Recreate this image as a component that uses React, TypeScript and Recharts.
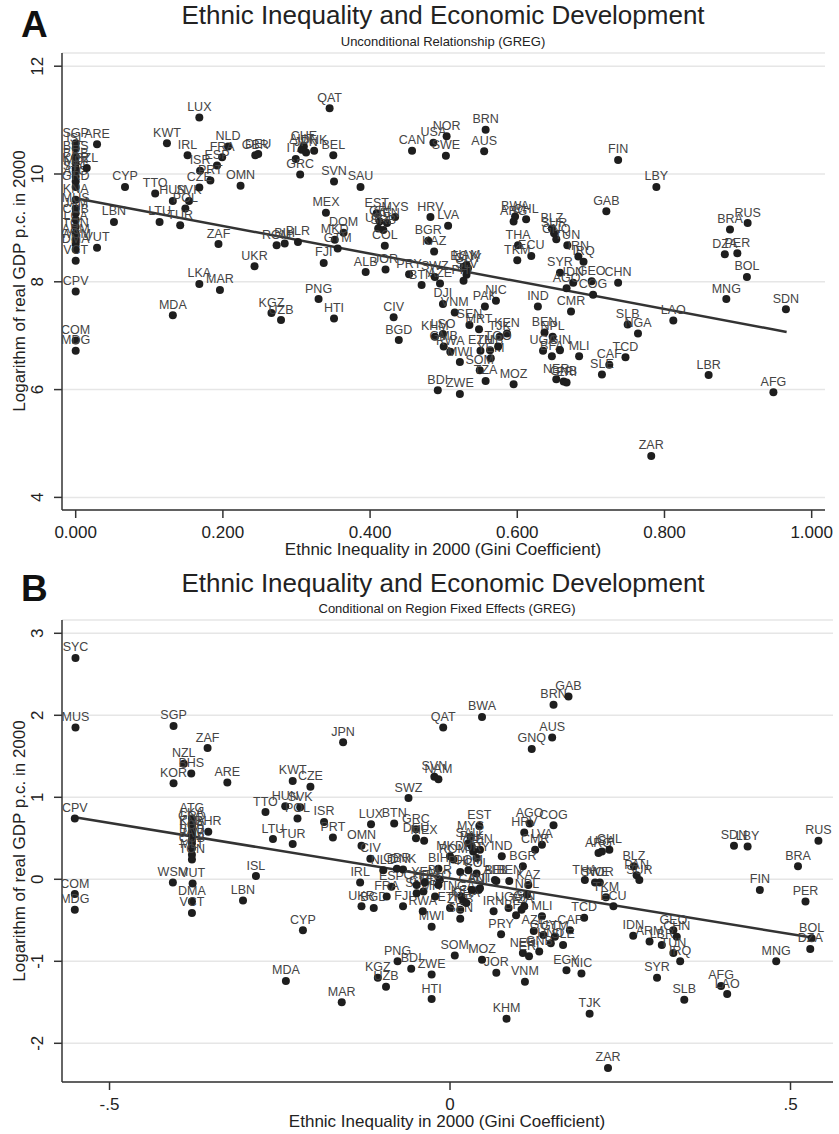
import React from "react";
import {
  ScatterChart,
  Scatter,
  XAxis,
  YAxis,
  CartesianGrid,
  ReferenceLine,
} from "recharts";

// Panel A: unconditional relationship
const A_CODES = [
  "SGP", "ISL", "BHS", "BRB", "KOR", "MLT", "SYC", "ATG", "GRD", "KNA", "MUS", "JAM", "CUB", "LCA", "TON",
  "ARM", "WSM", "DMA", "VCT", "CPV", "COM", "MDG", "SZL", "ARE", "VUT", "CYP", "LBN", "TTO", "HUN", "SVK",
  "POL", "LTU", "TUR", "KWT", "IRL", "LUX", "NLD", "FRA", "ESP", "ISR", "PRT", "CZE", "OMN", "GBR", "DEU",
  "ITA", "CHE", "AUT", "DNK", "JPN", "BEL", "GRC", "SVN", "SAU", "QAT", "CAN", "USA", "NOR", "SWE", "BRN",
  "AUS", "FIN", "LBY", "GAB", "MEX", "EST", "CRI", "MYS", "VEN", "URY", "SRB", "HRV", "LVA", "BGR", "KAZ",
  "DOM", "MKD", "GTM", "FJI", "COL", "ALB", "JOR", "PRY", "BTN", "SWZ", "AZE", "EGY", "NAM", "GUY", "SLV",
  "PHL", "ROM", "BIH", "BLR", "ZAF", "UKR", "LKA", "MAR", "MDA", "KGZ", "UZB", "PNG", "HTI", "CIV", "BGD",
  "DJI", "VNM", "PAK", "NIC", "SEN", "MRT", "KEN", "TJK", "KHM", "LSO", "GMB", "RWA", "MWI", "ETH", "ZMB",
  "YEM", "TGO", "SOM", "TZA", "MOZ", "BDI", "ZWE", "IND", "CMR", "BEN", "NPL", "UGA", "BFA", "GIN", "MLI",
  "NER", "GNB", "ERI", "TCD", "CAF", "SLE", "SLB", "NGA", "LAO", "LBR", "AFG", "ZAR", "MNG", "SDN", "BRA",
  "RUS", "DZA", "PER", "BOL", "ARG", "CHL", "BWA", "BLZ", "SUR", "GNQ", "THA", "ECU", "TKM", "TUN", "IRQ",
  "IRN", "SYR", "IDN", "GEO", "AGO", "COG", "CHN",
];
const A_GINI = [
  0, 0, 0, 0, 0, 0, 0, 0, 0, 0, 0, 0, 0, 0, 0,
  0, 0, 0, 0, 0, 0, 0, 0.015, 0.029, 0.029, 0.067, 0.052, 0.108, 0.132, 0.154,
  0.149, 0.114, 0.142, 0.124, 0.152, 0.168, 0.207, 0.199, 0.192, 0.169, 0.183, 0.168, 0.224, 0.244, 0.248,
  0.299, 0.31, 0.307, 0.324, 0.313, 0.35, 0.305, 0.351, 0.387, 0.345, 0.457, 0.486, 0.504, 0.503, 0.557,
  0.555, 0.737, 0.789, 0.721, 0.34, 0.409, 0.413, 0.434, 0.423, 0.411, 0.418, 0.482, 0.506, 0.479, 0.487,
  0.364, 0.352, 0.356, 0.337, 0.42, 0.394, 0.421, 0.453, 0.47, 0.488, 0.495, 0.527, 0.531, 0.533, 0.531,
  0.527, 0.273, 0.284, 0.302, 0.194, 0.243, 0.168, 0.196, 0.132, 0.266, 0.279, 0.33, 0.351, 0.432, 0.439,
  0.499, 0.515, 0.556, 0.571, 0.535, 0.548, 0.586, 0.576, 0.488, 0.499, 0.5, 0.509, 0.522, 0.55, 0.563,
  0.564, 0.574, 0.549, 0.557, 0.595, 0.492, 0.522, 0.628, 0.673, 0.637, 0.648, 0.635, 0.647, 0.658, 0.684,
  0.653, 0.663, 0.667, 0.747, 0.725, 0.715, 0.75, 0.764, 0.812, 0.86, 0.948, 0.782, 0.884, 0.965, 0.889,
  0.913, 0.882, 0.899, 0.912, 0.595, 0.612, 0.597, 0.647, 0.65, 0.653, 0.601, 0.619, 0.6, 0.668, 0.69,
  0.683, 0.658, 0.676, 0.701, 0.667, 0.703, 0.737,
];
const A_GDP = [
  10.57, 10.48, 10.32, 10.2, 10.1, 10.04, 9.95, 9.86, 9.76, 9.52, 9.36, 9.27, 9.15, 9.02, 8.9,
  8.78, 8.7, 8.6, 8.39, 7.82, 6.91, 6.72, 10.11, 10.55, 8.63, 9.76, 9.11, 9.64, 9.5, 9.5,
  9.36, 9.11, 9.05, 10.57, 10.35, 11.05, 10.51, 10.31, 10.16, 10.06, 9.88, 9.75, 9.78, 10.35, 10.37,
  10.28, 10.51, 10.45, 10.43, 10.4, 10.35, 9.99, 9.86, 9.76, 11.22, 10.43, 10.58, 10.7, 10.34, 10.82,
  10.42, 10.26, 9.76, 9.31, 9.28, 9.27, 9.12, 9.2, 9.09, 8.99, 8.96, 9.2, 9.04, 8.76, 8.56,
  8.91, 8.78, 8.62, 8.35, 8.67, 8.18, 8.23, 8.14, 7.94, 8.09, 7.97, 8.28, 8.31, 8.25, 8.13,
  8.02, 8.68, 8.71, 8.74, 8.7, 8.29, 7.96, 7.85, 7.38, 7.42, 7.29, 7.68, 7.32, 7.34, 6.92,
  7.59, 7.43, 7.54, 7.65, 7.2, 7.12, 7.04, 6.98, 6.98, 7.03, 6.8, 6.7, 6.51, 6.72, 6.73,
  6.58, 6.8, 6.36, 6.16, 6.1, 5.99, 5.92, 7.54, 7.45, 7.06, 6.98, 6.72, 6.62, 6.73, 6.62,
  6.19, 6.15, 6.13, 6.6, 6.46, 6.28, 7.21, 7.04, 7.28, 6.27, 5.95, 4.77, 7.68, 7.49, 8.97,
  9.09, 8.51, 8.53, 8.09, 9.12, 9.16, 9.21, 8.99, 8.9, 8.79, 8.68, 8.48, 8.4, 8.68, 8.37,
  8.47, 8.17, 7.98, 8.01, 7.88, 7.76, 7.98,
];
const A_FIT = [
  { x: 0, y: 9.55 },
  { x: 0.966, y: 7.07 },
];
const A_XTICKS = [0, 0.2, 0.4, 0.6, 0.8, 1];
const A_YTICKS = [4, 6, 8, 10, 12];

// Panel B: conditional on region fixed effects (residuals)
const B_CODES = [
  "SYC", "MUS", "CPV", "COM", "MDG", "SGP", "ZAF", "NZL", "BHS", "KOR", "ARE", "JPN", "KWT", "CZE", "SWZ",
  "HUN", "SVK", "TTO", "POL", "ISR", "PRT", "LTU", "TUR", "LUX", "BTN", "OMN", "CIV", "IRL", "UKR", "BGD",
  "ESP", "FJI", "CYP", "MDA", "MAR", "KGZ", "UZB", "PNG", "BDI", "ISL", "LBN", "ATG", "LKA", "GRD", "KNA",
  "LCA", "BRB", "JAM", "CUB", "MLT", "TON", "VUT", "DMA", "VCT", "WSM", "BHR", "QAT", "BWA", "BRN", "GAB",
  "AUS", "GNQ", "SVN", "NAM", "GRC", "DEU", "MEX", "EST", "MYS", "SAU", "PAK", "CRI", "VEN", "URY", "IND",
  "AGO", "COG", "HRV", "LVA", "CMR", "BGR", "KAZ", "BEL", "BEN", "THA", "SWE", "NOR", "ARG", "USA", "CHL",
  "BLZ", "PAN", "SUR", "TKM", "ECU", "SDN", "LBY", "RUS", "BRA", "FIN", "PER", "BOL", "DZA", "MNG", "GEO",
  "CHN", "IDN", "ARM", "LBR", "TUN", "IRQ", "SYR", "SLB", "AFG", "LAO", "TCD", "CAF", "MLI", "AZE", "GUY",
  "HND", "GTM", "SLE", "NER", "ERI", "GNB", "EGY", "NIC", "VNM", "JOR", "MOZ", "SOM", "PRY", "IRN", "UGA",
  "BFA", "TZA", "NPL", "GIN", "MWI", "RWA", "ZWE", "HTI", "KHM", "TJK", "ZAR", "GMB", "ETH", "ZMB", "KEN",
  "SEN", "MKD", "ROM", "BIH", "BLR", "PHL", "DOM", "COL", "ALB", "SLV", "MRT", "LSO", "DJI", "NGA", "GHA",
  "FRA", "CAN", "AUT", "NLD", "GBR", "DNK", "CHE", "YEM",
];
const B_GINI = [
  -0.55, -0.55, -0.551, -0.551, -0.551, -0.406, -0.356, -0.391, -0.38, -0.406, -0.327, -0.157, -0.231, -0.205, -0.061,
  -0.242, -0.22, -0.271, -0.224, -0.185, -0.172, -0.26, -0.231, -0.116, -0.082, -0.13, -0.117, -0.132, -0.13, -0.112,
  -0.086, -0.069, -0.216, -0.241, -0.159, -0.106, -0.094, -0.077, -0.057, -0.285, -0.304, -0.379, -0.379, -0.379, -0.379,
  -0.379, -0.379, -0.379, -0.379, -0.379, -0.379, -0.378, -0.379, -0.379, -0.407, -0.355, -0.01, 0.047, 0.152, 0.174,
  0.15, 0.12, -0.023, -0.017, -0.05, -0.05, -0.038, 0.043, 0.03, 0.027, 0.032, 0.034, 0.044, 0.039, 0.076,
  0.117, 0.152, 0.109, 0.135, 0.125, 0.107, 0.115, 0.068, 0.087, 0.198, 0.213, 0.22, 0.218, 0.223, 0.234,
  0.27, 0.274, 0.278, 0.229, 0.24, 0.417, 0.437, 0.541, 0.511, 0.455, 0.522, 0.531, 0.529, 0.479, 0.328,
  0.333, 0.269, 0.293, 0.311, 0.328, 0.338, 0.304, 0.344, 0.398, 0.407, 0.197, 0.176, 0.135, 0.123, 0.137,
  0.148, 0.154, 0.166, 0.107, 0.116, 0.131, 0.171, 0.193, 0.11, 0.068, 0.047, 0.007, 0.075, 0.064, 0.086,
  0.097, 0.105, 0.113, 0.109, -0.027, -0.04, -0.027, -0.027, 0.083, 0.205, 0.232, -0.039, 0, 0.015, 0.02,
  0.015, 0, 0.005, -0.017, -0.015, 0.015, 0.027, 0.039, 0.066, -0.049, -0.022, -0.017, 0.042, 0.017, 0.024,
  -0.093, 0.032, 0.044, -0.098, -0.078, -0.069, -0.049, -0.037,
];
const B_GDP = [
  2.7, 1.85, 0.74, -0.18, -0.37, 1.87, 1.6, 1.41, 1.29, 1.17, 1.18, 1.67, 1.2, 1.13, 0.99,
  0.89, 0.88, 0.82, 0.74, 0.7, 0.51, 0.49, 0.43, 0.67, 0.68, 0.41, 0.25, -0.04, -0.33, -0.35,
  -0.09, -0.33, -0.62, -1.24, -1.5, -1.2, -1.31, -1.0, -1.09, 0.04, -0.26, 0.74, 0.68, 0.64, 0.58,
  0.54, 0.48, 0.44, 0.38, 0.3, 0.24, -0.05, -0.27, -0.41, -0.04, 0.58, 1.85, 1.98, 2.13, 2.23,
  1.73, 1.59, 1.25, 1.22, 0.61, 0.5, 0.47, 0.65, 0.52, 0.44, 0.4, 0.34, 0.36, 0.26, 0.28,
  0.68, 0.66, 0.57, 0.42, 0.36, 0.16, -0.07, -0.02, -0.02, -0.01, -0.04, -0.04, 0.32, 0.34, 0.36,
  0.16, 0.05, -0.01, -0.22, -0.33, 0.41, 0.4, 0.47, 0.16, -0.13, -0.27, -0.72, -0.85, -1.0, -0.62,
  -0.7, -0.69, -0.76, -0.8, -0.9, -1.0, -1.2, -1.47, -1.3, -1.4, -0.47, -0.62, -0.45, -0.63, -0.68,
  -0.78, -0.7, -0.8, -0.9, -0.94, -0.88, -1.11, -1.15, -1.25, -1.14, -0.98, -0.93, -0.67, -0.39, -0.35,
  -0.44, -0.37, -0.19, -0.33, -0.58, -0.39, -1.16, -1.46, -1.7, -1.64, -2.3, -0.15, -0.35, -0.37, -0.27,
  -0.48, 0.28, 0.24, 0.13, -0.01, 0.09, 0.11, 0.07, -0.01, -0.17, -0.21, -0.07, -0.13, -0.21, -0.29,
  -0.21, -0.13, -0.11, 0.11, 0.13, 0.12, -0.07, -0.04,
];
const B_FIT = [
  { x: -0.551, y: 0.756 },
  { x: 0.536, y: -0.717 },
];
const B_XTICKS = [-0.5, 0, 0.5];
const B_XLABELS = ["-.5", "0", ".5"];
const B_YTICKS = [-2, -1, 0, 1, 2, 3];

const FONT = "'Liberation Sans', Arial, Helvetica, sans-serif";
const TEXT = "#222";

const dataA = A_CODES.map((code, i) => ({ code, x: A_GINI[i], y: A_GDP[i] }));
const dataB = B_CODES.map((code, i) => ({ code, x: B_GINI[i], y: B_GDP[i] }));

const Marker = (props: any) => {
  const { cx, cy, payload } = props;
  if (cx == null || cy == null) return null;
  return (
    <g>
      <circle cx={cx} cy={cy} r={4} fill="#1e1e1e" />
      <text
        x={cx}
        y={cy - 6.5}
        textAnchor="middle"
        fontSize={12.5}
        fontFamily={FONT}
        fill="#444"
      >
        {payload.code}
      </text>
    </g>
  );
};

const makeXTick = (fmt: (v: number) => string) => (props: any) => {
  const { x, y, payload } = props;
  return (
    <text x={x} y={y + 18} textAnchor="middle" fontSize={17} fontFamily={FONT} fill={TEXT}>
      {fmt(payload.value)}
    </text>
  );
};

const YTick = (props: any) => {
  const { x, y, payload } = props;
  const bx = x - 9;
  return (
    <text
      x={bx}
      y={y}
      transform={`rotate(-90 ${bx} ${y})`}
      textAnchor="middle"
      fontSize={17}
      fontFamily={FONT}
      fill={TEXT}
    >
      {payload.value}
    </text>
  );
};

const axisLine = { stroke: "#333", strokeWidth: 1.5 };
const tickLine = { stroke: "#333", strokeWidth: 1.5 };

function Panel({
  data,
  fit,
  xDomain,
  yDomain,
  xTicks,
  yTicks,
  xFmt,
  height,
  top,
  right,
  xAxisHeight,
}: any) {
  return (
    <ScatterChart
      width={839}
      height={height}
      margin={{ top, right, bottom: 0, left: 0 }}
    >
      <CartesianGrid horizontal vertical={false} stroke="#e6e6e6" strokeWidth={1.5} />
      <XAxis
        type="number"
        dataKey="x"
        domain={xDomain}
        ticks={xTicks}
        allowDataOverflow
        height={xAxisHeight}
        axisLine={axisLine}
        tickLine={tickLine}
        tickSize={8}
        interval={0}
        tick={makeXTick(xFmt)}
      />
      <YAxis
        type="number"
        dataKey="y"
        domain={yDomain}
        ticks={yTicks}
        allowDataOverflow
        width={62}
        axisLine={axisLine}
        tickLine={tickLine}
        tickSize={8}
        interval={0}
        tick={YTick}
      />
      <Scatter data={data} shape={Marker} isAnimationActive={false} />
      <ReferenceLine segment={fit} stroke="#333" strokeWidth={2.5} />
    </ScatterChart>
  );
}

export default function App() {
  return (
    <div
      style={{
        position: "absolute",
        left: 0,
        top: 0,
        width: 839,
        height: 1134,
        background: "#fff",
        fontFamily: FONT,
      }}
    >
      <div style={{ position: "absolute", left: 0, top: 0 }}>
        <Panel
          data={dataA}
          fit={A_FIT}
          xDomain={[-0.0186, 1.0181]}
          yDomain={[3.766, 12.245]}
          xTicks={A_XTICKS}
          yTicks={A_YTICKS}
          xFmt={(v: number) => v.toFixed(3)}
          height={565}
          top={53}
          right={14}
          xAxisHeight={55}
        />
      </div>
      <div style={{ position: "absolute", left: 0, top: 565 }}>
        <Panel
          data={dataB}
          fit={B_FIT}
          xDomain={[-0.5698, 0.5624]}
          yDomain={[-2.472, 3.162]}
          xTicks={B_XTICKS}
          yTicks={B_YTICKS}
          xFmt={(v: number) => B_XLABELS[B_XTICKS.indexOf(v)]}
          height={569}
          top={55}
          right={6}
          xAxisHeight={52}
        />
      </div>
      <svg
        width={839}
        height={1134}
        style={{ position: "absolute", left: 0, top: 0, pointerEvents: "none" }}
        fontFamily={FONT}
      >
        <text x={21} y={37} fontSize={37} fontWeight="bold" fill="#111">A</text>
        <text x={443} y={24} textAnchor="middle" fontSize={26} fill={TEXT}>
          Ethnic Inequality and Economic Development
        </text>
        <text x={443} y={46} textAnchor="middle" fontSize={13} fill={TEXT}>
          Unconditional Relationship (GREG)
        </text>
        <text x={443} y={555} textAnchor="middle" fontSize={17} fill={TEXT}>
          Ethnic Inequality in 2000 (Gini Coefficient)
        </text>
        <text x={25} y={281} transform="rotate(-90 25 281)" textAnchor="middle" fontSize={17} fill={TEXT}>
          Logarithm of real GDP p.c. in 2000
        </text>

        <text x={21} y={601} fontSize={37} fontWeight="bold" fill="#111">B</text>
        <text x={443} y={592} textAnchor="middle" fontSize={26} fill={TEXT}>
          Ethnic Inequality and Economic Development
        </text>
        <text x={447} y={613} textAnchor="middle" fontSize={13} fill={TEXT}>
          Conditional on Region Fixed Effects (GREG)
        </text>
        <text x={447} y={1127} textAnchor="middle" fontSize={17} fill={TEXT}>
          Ethnic Inequality in 2000 (Gini Coefficient)
        </text>
        <text x={25} y={851} transform="rotate(-90 25 851)" textAnchor="middle" fontSize={17} fill={TEXT}>
          Logarithm of real GDP p.c. in 2000
        </text>
      </svg>
    </div>
  );
}
